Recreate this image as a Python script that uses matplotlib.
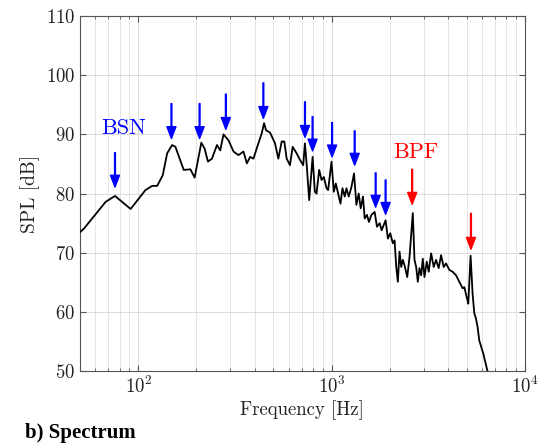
import matplotlib
matplotlib.use("Agg")
import matplotlib.pyplot as plt
from matplotlib.ticker import LogLocator, NullFormatter, LogFormatterMathtext

plt.rcParams["font.family"] = "serif"
plt.rcParams["font.serif"] = ["cmr10", "DejaVu Serif"]
plt.rcParams["mathtext.fontset"] = "cm"
plt.rcParams["axes.formatter.use_mathtext"] = True

# Narrowband SPL spectrum
freq = [50, 52.4, 67.8, 75.8, 91.3, 109.0, 118.1, 125.3, 133.9, 141.1,
        149.7, 155.7, 171.9, 186.1, 195.8, 212.0, 220.4, 229.5, 240.7, 255.4,
        265.6, 276.2, 293.1, 311.1, 330.1, 350.3, 364.7, 379.3, 394.5, 418.5,
        435.8, 447.7, 458.5, 480.8, 510.2, 530.6, 552.5, 569.8, 586.1, 609.6,
        629.5, 660.1, 686.5, 713.9, 728.4, 743.2, 766.6, 798.3, 820.3, 836.9,
        863.2, 888.3, 912.7, 942.4, 960.5, 1000, 1027.7, 1052.4, 1112.8, 1139.5,
        1171, 1195, 1228, 1268, 1307.6, 1345.5, 1382.6, 1415.8, 1455, 1485,
        1526, 1562.6, 1608, 1672, 1718.8, 1774.6, 1817, 1905, 1958, 2014,
        2077, 2120, 2163, 2204, 2249, 2295, 2339, 2387, 2465, 2533,
        2634, 2688, 2742, 2796, 2852, 2911, 2967, 3027, 3111, 3185,
        3277, 3380, 3477, 3586, 3690, 3805, 3916, 4073, 4235, 4409,
        4585, 4769, 4866, 5023, 5103, 5244, 5370, 5480, 5591, 5697,
        5814, 6096, 6415, 6700]
spl = [73.5, 74.1, 78.6, 79.6, 77.4, 80.6, 81.3, 81.3, 83.1, 86.8,
       88.2, 87.9, 84.0, 84.1, 82.7, 88.6, 87.6, 85.4, 85.9, 88.2,
       87.3, 90.0, 89.0, 87.1, 86.5, 87.1, 85.1, 86.2, 85.9, 88.5,
       90.2, 91.9, 90.7, 90.3, 88.5, 85.9, 88.8, 88.8, 85.9, 84.8,
       87.9, 86.8, 85.7, 84.8, 88.5, 85.1, 78.9, 86.2, 80.3, 80.0,
       84.0, 82.3, 82.8, 80.9, 80.6, 85.4, 80.3, 81.7, 78.3, 80.9,
       79.5, 80.9, 79.5, 81.1, 83.4, 78.1, 80.0, 77.5, 79.5, 75.8,
       76.4, 75.2, 76.4, 76.9, 74.4, 75.0, 73.8, 75.5, 72.4, 73.3,
       71.6, 72.1, 67.6, 65.1, 70.2, 67.6, 68.8, 67.9, 65.9, 69.3,
       76.7, 68.8, 67.6, 65.1, 67.4, 66.2, 69.0, 65.9, 68.5, 66.8,
       69.9, 67.6, 68.8, 67.4, 69.6, 67.6, 68.2, 67.1, 66.8, 66.2,
       65.1, 64.0, 64.2, 62.3, 61.4, 69.5, 63.1, 59.8, 58.9, 57.5,
       55.2, 53.0, 50.0, 48.5]

# Broadband shedding noise markers (blue) and blade passing frequency markers (red)
bsn_freq = [75.8, 148.5, 207.7, 284, 444, 729, 798, 1007, 1318, 1692, 1905]
bsn_tip = [81.1, 89.3, 89.3, 90.85, 92.7, 89.5, 87.2, 86.2, 84.8, 77.7, 76.5]
bsn_tail = [86.9, 95.2, 95.2, 96.8, 98.7, 95.5, 93.0, 92.0, 90.6, 83.5, 82.3]
bpf_freq = [2615, 5267]
bpf_tip = [78.2, 70.6]
bpf_tail = [84.1, 76.65]

fig = plt.figure(figsize=(5.41, 4.44), dpi=100)
ax = fig.add_axes([0.148, 0.164, 0.822, 0.800])

ax.semilogx(freq, spl, color="black", lw=1.3, zorder=3)

for f, tip, tail in zip(bsn_freq, bsn_tip, bsn_tail):
    ax.annotate("", xy=(f, tip), xytext=(f, tail),
                arrowprops=dict(facecolor="#0000ff", edgecolor="#0000ff",
                                width=0.6, headwidth=6.5, headlength=8.5,
                                shrink=0), zorder=4)
for f, tip, tail in zip(bpf_freq, bpf_tip, bpf_tail):
    ax.annotate("", xy=(f, tip), xytext=(f, tail),
                arrowprops=dict(facecolor="#ff0000", edgecolor="#ff0000",
                                width=0.6, headwidth=6.5, headlength=8.5,
                                shrink=0), zorder=4)

ax.text(83.7, 91.1, "BSN", color="#0000ff", fontsize=16, ha="center", va="center")
ax.text(2729, 87.06, "BPF", color="#ff0000", fontsize=16, ha="center", va="center")

ax.set_xlim(50, 1e4)
ax.set_ylim(50, 110)
ax.set_yticks([50, 60, 70, 80, 90, 100, 110])
ax.xaxis.set_major_locator(LogLocator(base=10, numticks=10))
ax.xaxis.set_minor_locator(LogLocator(base=10, subs=range(2, 10), numticks=100))
ax.xaxis.set_major_formatter(LogFormatterMathtext())
ax.xaxis.set_minor_formatter(NullFormatter())

ax.grid(True, which="major", color="#dcdcdc", lw=0.7)
ax.grid(True, which="minor", axis="x", color="#e6e6e6", lw=0.7)
ax.set_axisbelow(True)

for s in ax.spines.values():
    s.set_color("#555555")
    s.set_linewidth(0.8)
ax.tick_params(which="both", direction="in", top=True, right=True,
               colors="#555555", labelcolor="#222222", labelsize=13.5)
ax.tick_params(which="major", length=4)
ax.tick_params(which="minor", length=2.5)

ax.set_xlabel("Frequency [Hz]", fontsize=13.5, color="#222222", labelpad=2)
ax.set_ylabel("SPL [dB]", fontsize=14, color="#222222", labelpad=4)

fig.text(0.047, 0.025, "b) Spectrum", fontsize=15, fontweight="bold",
         family="Liberation Serif", ha="left", va="center")

fig.savefig("out.png", dpi=100)
